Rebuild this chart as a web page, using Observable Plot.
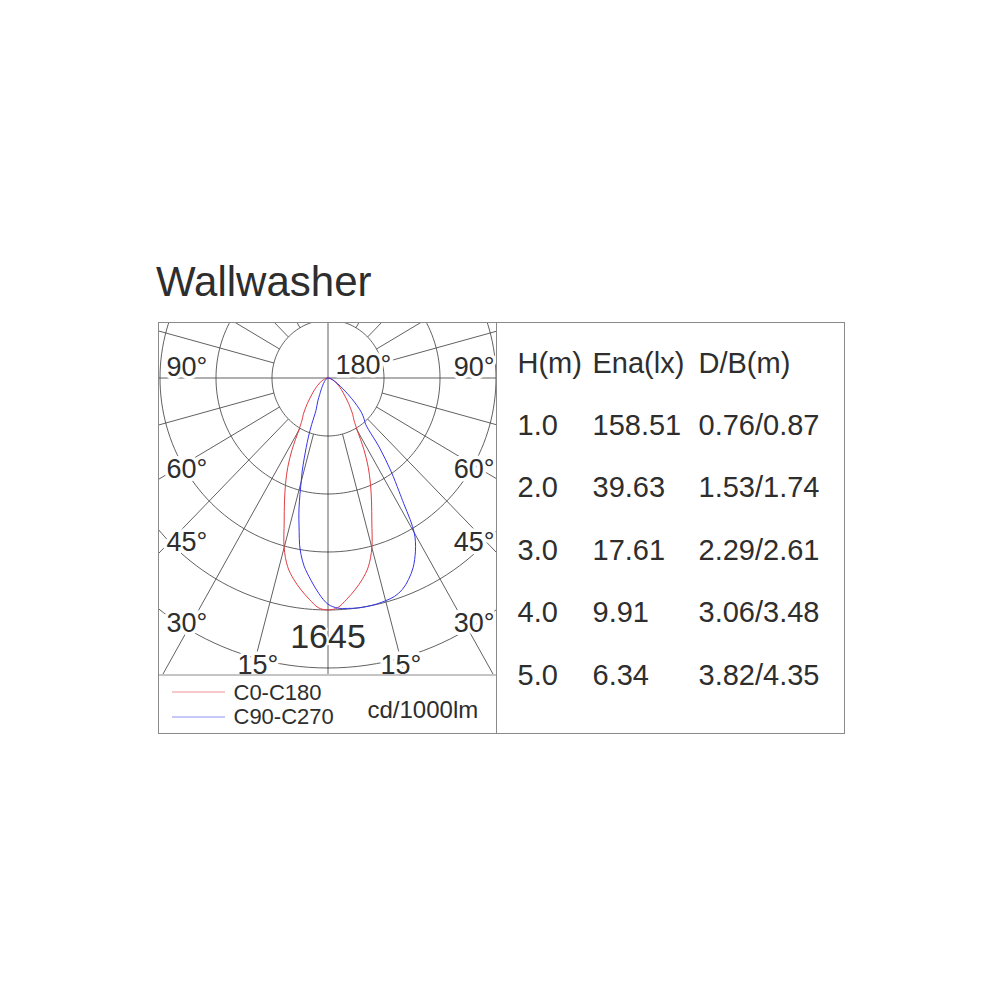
<!DOCTYPE html>
<html><head><meta charset="utf-8">
<script src="https://cdn.jsdelivr.net/npm/d3@7"></script>
<script src="https://cdn.jsdelivr.net/npm/@observablehq/plot@0.6"></script>
<style>
body{margin:0;background:#fff;}
#wrap{position:relative;width:1000px;height:1000px;overflow:hidden;}
#title{position:absolute;left:156px;top:261px;margin:0;font-family:"Liberation Sans",Arial,sans-serif;font-size:42px;line-height:42px;font-weight:normal;color:#2e2e2e;}
#polar{position:absolute;left:158px;top:322px;}
#panel{position:absolute;left:0;top:0;}
#wrap svg{display:block;max-width:none;}
</style></head><body>
<div id="wrap">
  <h1 id="title">Wallwasher</h1>
  <div id="polar"></div>
  <div id="panel"></div>
</div>
<script>
// ---------------- data ----------------
const chartTitle = "Wallwasher";
const planeNames = ["C0-C180", "C90-C270"];
const unitLabel = "cd/1000lm";
const maxIntensity = 1645;               // cd/1000lm, value of ring 4
const ringCount = 5;
const angleLabels = ["90°", "60°", "45°", "30°", "15°"];
const topLabel = "180°";

// C0-C180 (red): gamma angle (deg, 0 = down) and intensity (cd/1000lm)
const redAngles = [-90,-85,-80,-75,-70,-65,-60,-55,-50,-45,-40,-35,-32.5,-30,-27.5,-25,-22.5,-20,-17.5,-15,-12.5,-10,-7.5,-5,-2.5,
  0,2.5,5,7.5,10,12.5,15,17.5,20,22.5,25,27.5,30,32.5,35,40,45,50,55,60,65,70,75,80,85,90];
const redValues = [0,6,14,25,37,53,70,95,128,170,235,317,355,432,570,700,815,935,1070,1245,1370,1450,1515,1575,1630,
  1645,1630,1575,1515,1450,1370,1245,1070,935,815,700,570,432,355,317,235,170,128,95,70,53,37,25,14,6,0];

// C90-C270 (blue)
const blueAngles = [-90,-80,-70,-60,-50,-45,-40,-35,-30,-27.5,-25,-22.5,-21,-20,-19,-18,-17,-16,-15,-14,-13,-12,-11,-10,-9,-7.5,-5,-2.5,
  0,2.5,5,7.5,10,12.5,15,17.5,20,22.5,25,27.5,29,30,31,32,33,35,37.5,40,42.5,45,47.5,50,55,60,65,70,75,80,85,90];
const blueValues = [0,4,8,16,29,37,53,74,107,132,173,214,247,350,442,518,600,687,761,851,946,1028,1110,1201,1267,1345,1439,1530,
  1604,1633,1640,1645,1645,1642,1635,1624,1596,1546,1481,1390,1324,1267,1172,1049,958,806,617,432,391,350,288,226,136,82,53,33,21,12,4,0];

// table
const tableHeader = ["H(m)", "Ena(lx)", "D/B(m)"];
const heights = ["1.0", "2.0", "3.0", "4.0", "5.0"];
const illuminance = ["158.51", "39.63", "17.61", "9.91", "6.34"];
const beamSize = ["0.76/0.87", "1.53/1.74", "2.29/2.61", "3.06/3.48", "3.82/4.35"];

// ---------------- styles ----------------
const FONT = "Liberation Sans, Arial, Helvetica, sans-serif";
const TEXT = "#2e2e2e";
const GRID = "#4f4f4f";
const FRAME = "#8a8a8a";
const RED = "#e23c42";
const BLUE = "#3535e8";

// ---------------- polar diagram ----------------
const ringValue = maxIntensity / 4;
const rad = d => d * Math.PI / 180;
const W = 338, H = 352;           // polar panel in px
const cx = 169.5, cy = 55.5;      // centre in px
const kx = 56, ky = 58;           // px per ring

const toPts = (angles, values) => angles.map((a, i) => ({
  x: values[i] / ringValue * Math.sin(rad(a)),
  y: values[i] / ringValue * Math.cos(rad(a))
}));
const redPts = toPts(redAngles, redValues);
const bluePts = toPts(blueAngles, blueValues);

const ringPts = [];
for (let k = 1; k <= ringCount; k++) {
  for (let t = 0; t <= 360; t += 2) ringPts.push({k, x: k * Math.sin(rad(t)), y: k * Math.cos(rad(t))});
}
const radials = [];
for (let a = -165; a <= 165; a += 15) {
  if (a === 0 || Math.abs(a) === 90) continue;
  radials.push({a});
}

const polar = Plot.plot({
  width: W, height: H,
  marginTop: 0, marginRight: 0, marginBottom: 0, marginLeft: 0,
  x: {domain: [-cx / kx, (W - cx) / kx], range: [0, W], axis: null},
  y: {domain: [-cy / ky, (H - cy) / ky], range: [0, H], axis: null},
  style: {background: "transparent", overflow: "hidden"},
  marks: [
    Plot.line(ringPts, {x: "x", y: "y", z: "k", stroke: GRID, strokeWidth: 0.9, clip: true}),
    Plot.link(radials, {
      x1: d => Math.sin(rad(d.a)), y1: d => Math.cos(rad(d.a)),
      x2: d => 8 * Math.sin(rad(d.a)), y2: d => 8 * Math.cos(rad(d.a)),
      stroke: GRID, strokeWidth: 0.9, clip: true
    }),
    Plot.ruleX([0], {stroke: GRID, strokeWidth: 0.9}),
    Plot.ruleY([0], {stroke: GRID, strokeWidth: 0.9}),
    Plot.line(redPts, {x: "x", y: "y", stroke: RED, strokeWidth: 1, curve: "catmull-rom", clip: true}),
    Plot.line(bluePts, {x: "x", y: "y", stroke: BLUE, strokeWidth: 1, curve: "catmull-rom", clip: true})
  ]
});
document.getElementById("polar").appendChild(polar);

// ---------------- frame, labels, legend, table ----------------
const L = 158.5, M = 496.5, R = 844.5, T = 322.5, B = 733.5, D = 674.5;
const frameRects = [{x1: L, x2: M, y1: T, y2: B}, {x1: M, x2: R, y1: T, y2: B}];
const dividers = [{x1: L, x2: M, y: D}];

// angle labels (left / right side), positions follow the polar rings
const baselines = {"90°": 375, "60°": 477, "45°": 550, "30°": 631, "15°": 673};
const startLabels = [
  ...angleLabels.map(t => ({t, x: t === "15°" ? 237 : 166, y: baselines[t]})),
  {t: "15°", x: 380, y: baselines["15°"]},
  {t: topLabel, x: 335, y: 373}
];
const endLabels = angleLabels.filter(t => t !== "15°").map(t => ({t, x: 494, y: baselines[t]}));

const legendRows = planeNames.map((n, i) => ({n, c: i === 0 ? RED : BLUE, y: 691.5 + 25 * i, ty: 699 + 24 * i}));

const colX = [517, 592, 698];
const rowY0 = 372, rowStep = 62.4;
const cells = [];
tableHeader.forEach((h, j) => cells.push({t: h, x: colX[j], y: rowY0}));
heights.forEach((h, i) => {
  [h, illuminance[i], beamSize[i]].forEach((t, j) => cells.push({t, x: colX[j], y: rowY0 + rowStep * (i + 1)}));
});

const labelStyle = {fontSize: 27, fontFamily: FONT, fill: TEXT, stroke: "white", strokeWidth: 7, lineAnchor: "bottom"};

const panel = Plot.plot({
  width: 1000, height: 1000,
  marginTop: 0, marginRight: 0, marginBottom: 0, marginLeft: 0,
  x: {domain: [0, 1000], range: [0, 1000], axis: null},
  y: {domain: [0, 1000], range: [0, 1000], axis: null},
  style: {background: "transparent"},
  marks: [
    Plot.text(startLabels, {x: "x", y: "y", text: "t", textAnchor: "start", ...labelStyle}),
    Plot.text(endLabels, {x: "x", y: "y", text: "t", textAnchor: "end", ...labelStyle}),
    Plot.text([maxIntensity], {x: 327.5, y: 647, text: d => String(d), lineAnchor: "bottom", textAnchor: "middle",
      fontSize: 34, fontFamily: FONT, fill: TEXT, stroke: "white", strokeWidth: 4}),
    Plot.rect(frameRects, {x1: "x1", x2: "x2", y1: "y1", y2: "y2", fill: "none", stroke: FRAME, strokeWidth: 1}),
    Plot.ruleY(dividers, {x1: "x1", x2: "x2", y: "y", stroke: FRAME, strokeWidth: 1}),
    Plot.ruleY(legendRows, {x1: 172, x2: 225, y: "y", stroke: "c", strokeWidth: 0.8, strokeOpacity: 0.7}),
    Plot.text(legendRows, {x: 233, y: "ty", text: "n", textAnchor: "start", lineAnchor: "bottom",
      fontSize: 22, fontFamily: FONT, fill: TEXT}),
    Plot.text([unitLabel], {x: 367, y: 717, text: d => d, textAnchor: "start", lineAnchor: "bottom",
      fontSize: 24, fontFamily: FONT, fill: TEXT}),
    Plot.text(cells, {x: "x", y: "y", text: "t", textAnchor: "start", lineAnchor: "bottom",
      fontSize: 29, fontFamily: FONT, fill: TEXT})
  ]
});
document.getElementById("panel").appendChild(panel);
</script>
</body></html>
